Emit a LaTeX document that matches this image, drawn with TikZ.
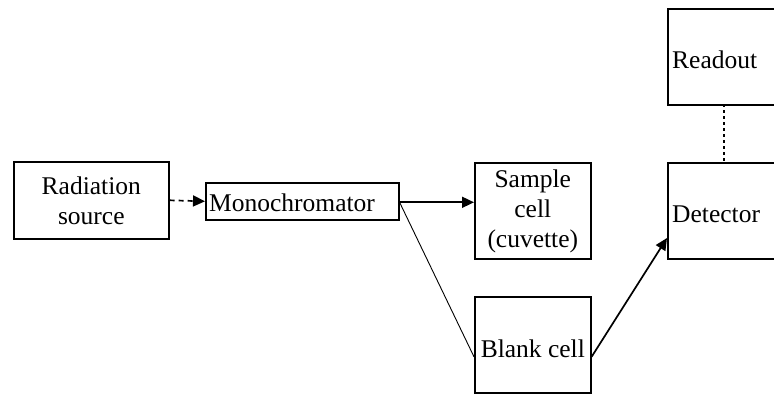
\documentclass[tikz,border=0pt]{standalone}
\usepackage{fontspec}
\setmainfont{Liberation Serif}
\usetikzlibrary{arrows.meta}
\begin{document}
\begin{tikzpicture}[x=1pt,y=-1pt,
  box/.style={draw,line width=1.6pt,inner sep=0pt,anchor=north west},
  lbl/.style={font=\fontsize{25.5}{30}\selectfont,inner sep=0pt,align=center},
  arr/.style={line width=1.7pt,-{Triangle[length=12pt,width=11pt]}}]
\useasboundingbox (0,0) rectangle (774,394);
\clip (0,0) rectangle (774,394);
% boxes
\node[box,minimum width=155pt,minimum height=77pt] (src) at (13,161) {};
\node[box,minimum width=193pt,minimum height=37pt] (mono) at (205,182) {};
\node[box,minimum width=116pt,minimum height=96pt] (samp) at (474,162) {};
\node[box,minimum width=116pt,minimum height=96pt] (blank) at (474,296) {};
\node[box,minimum width=140pt,minimum height=96pt] (det) at (667,162) {};
\node[box,minimum width=140pt,minimum height=96pt] (read) at (667,8) {};
% texts
\node[lbl] (srct) at (src.center) {Radiation\\source};
\node[lbl,anchor=west] (monot) at ([xshift=4pt,yshift=-1pt]mono.west) {Monochromator};
\node[lbl] (sampt) at ([yshift=-1pt]samp.center) {Sample\\cell\\(cuvette)};
\node[lbl] (blankt) at ([yshift=-4pt]blank.center) {Blank cell};
\node[lbl,anchor=base west] (dett) at ([xshift=5pt,yshift=-12pt]det.west) {Detector};
\node[lbl,anchor=base west] (readt) at ([xshift=5pt,yshift=-12pt]read.west) {Readout};
% connectors
\coordinate (mr) at ([yshift=-1pt]mono.east);
\draw[arr,dash pattern=on 5pt off 4pt] (src.east) -- (mono.west);
\draw[arr] (mr) -- (samp.west |- mr);
\coordinate (bw) at ([yshift=-12pt]blank.west);
\coordinate (be) at ([yshift=-12pt]blank.east);
\draw[line width=0.9pt] (mr) -- (bw);
\coordinate (dl) at (667,238);
\draw[arr] (be) -- (dl);
\coordinate (rb) at (724,104);
\coordinate (dt) at (724,162);
\draw[line width=1.6pt,dash pattern=on 3pt off 3pt] (rb) -- (dt);
\end{tikzpicture}
\end{document}
